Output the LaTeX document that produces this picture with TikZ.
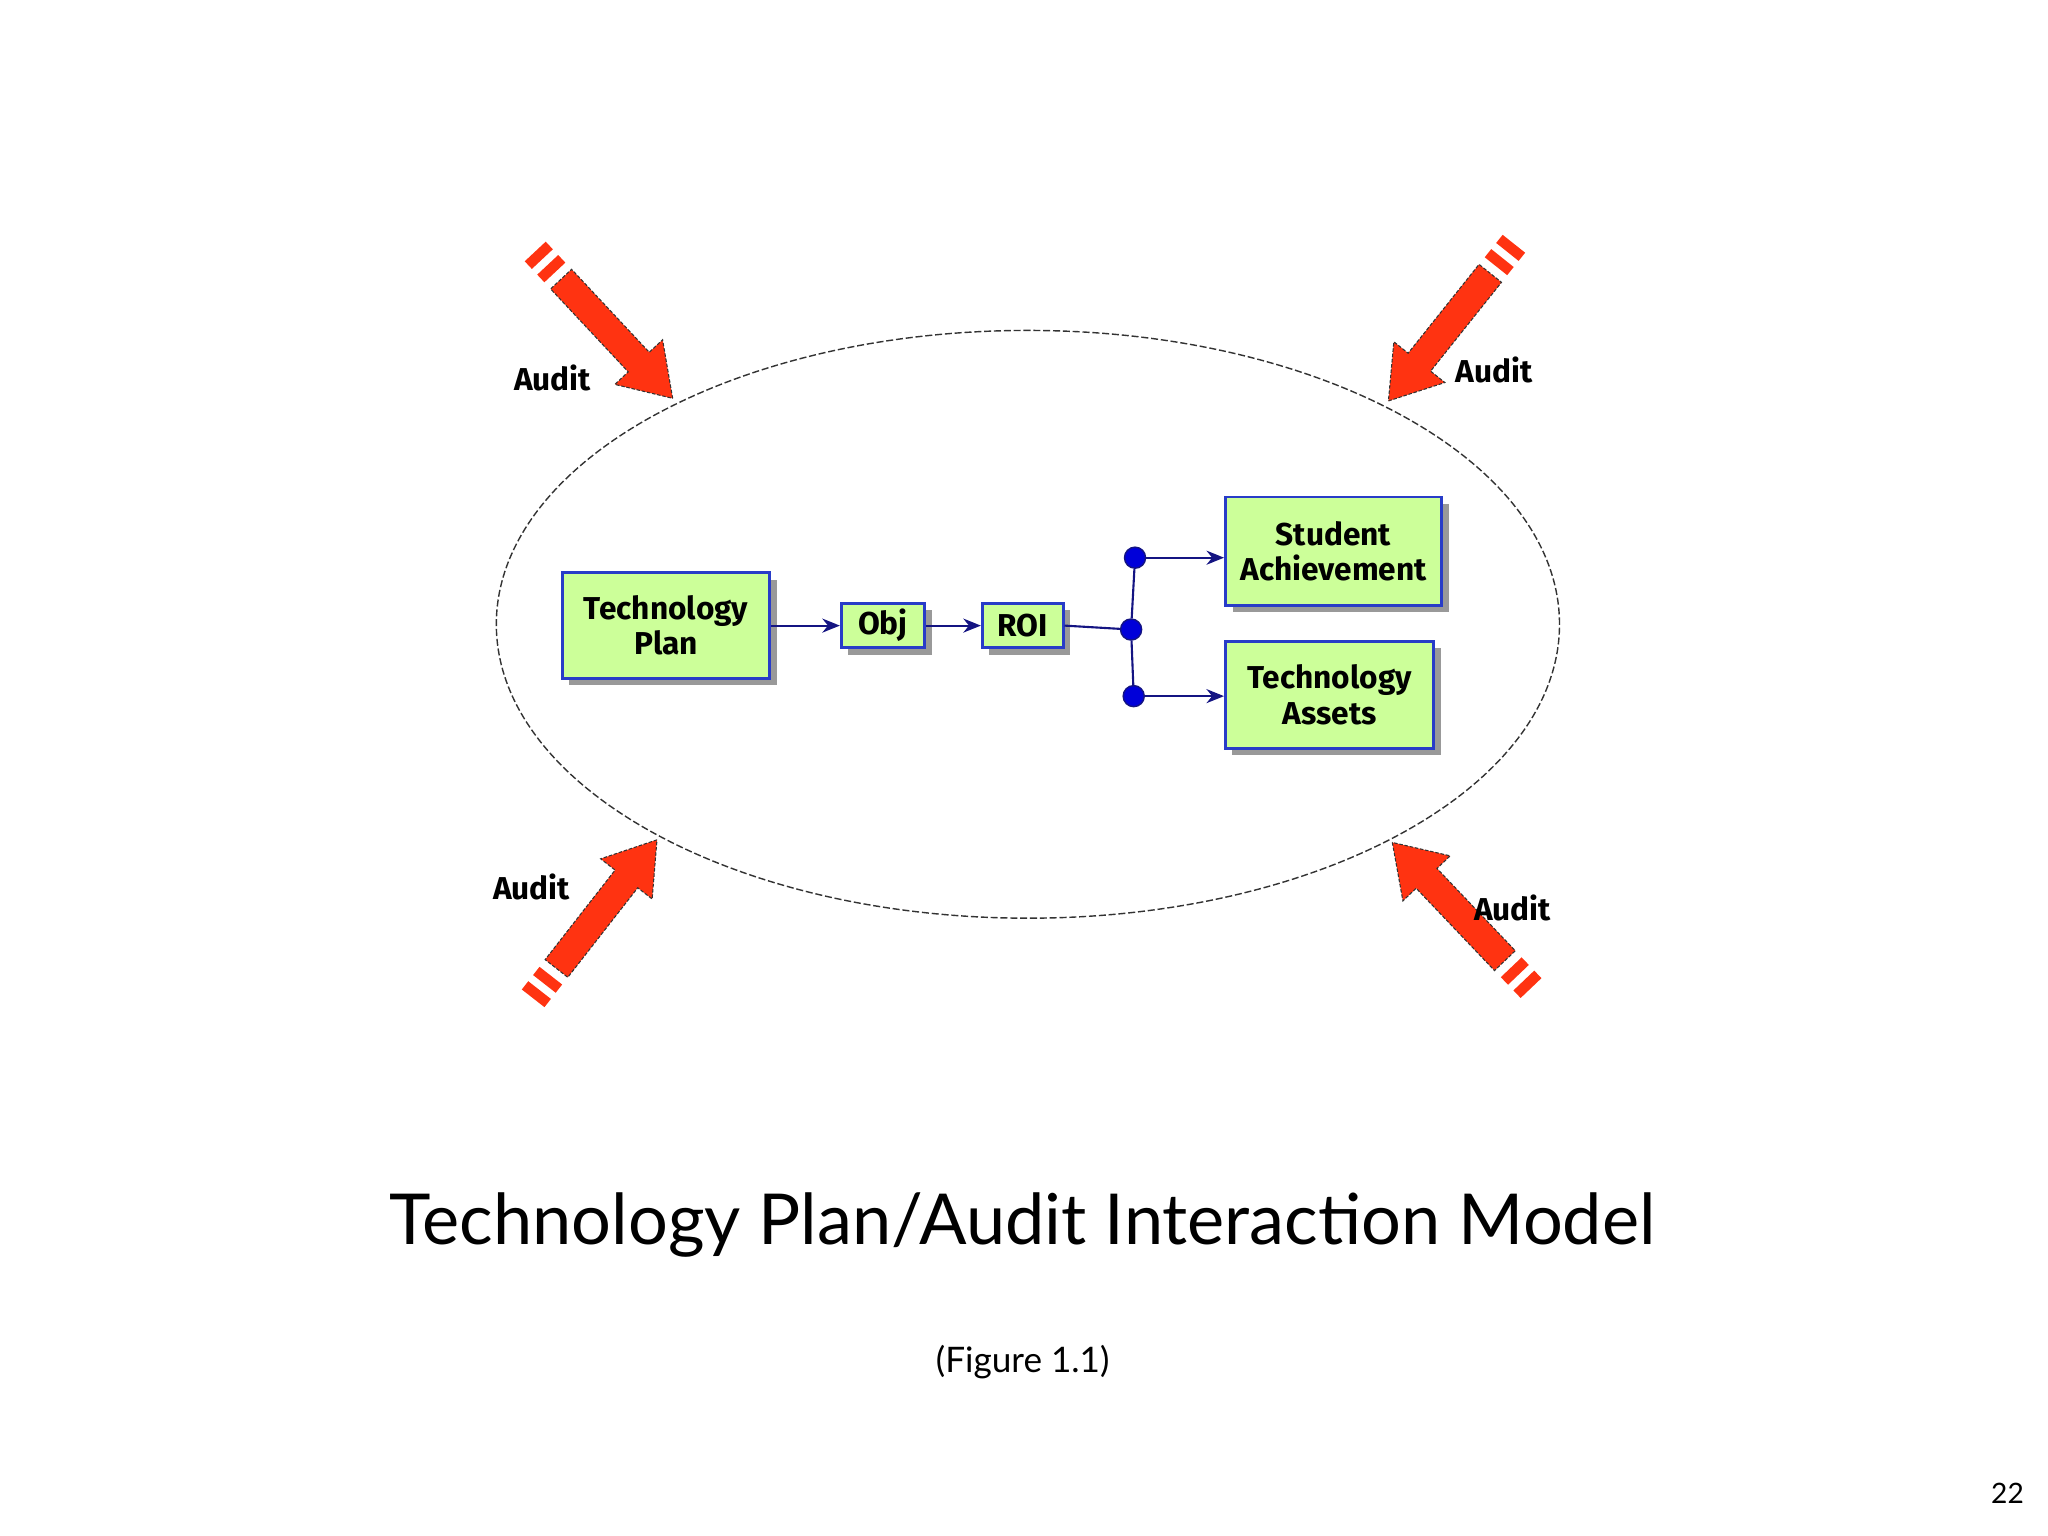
\documentclass[tikz,border=0pt]{standalone}
\usepackage{fontspec}
\setmainfont{Lato}
\newfontfamily\boxfont{Fira Sans}
\usetikzlibrary{arrows.meta,shadows}
\definecolor{boxgreen}{RGB}{204,255,153}
\definecolor{boxblue}{RGB}{40,60,200}
\definecolor{linknavy}{RGB}{20,20,130}
\definecolor{auditred}{RGB}{255,51,17}
\tikzset{
  plan/.style={draw=boxblue, fill=boxgreen, thick, align=center, inner sep=1pt,
    font=\boxfont\bfseries\fontsize{9}{10}\selectfont,
    drop shadow={shadow xshift=2pt, shadow yshift=-2pt, fill=black!40, opacity=1}},
  link/.style={draw=linknavy, line width=0.6pt},
  flow/.style={link, -{Stealth[length=5pt,width=4pt]}},
  dot/.style={circle, fill=blue!85!black, draw=linknavy, inner sep=0pt, minimum size=6pt},
  audit/.style={font=\boxfont\bfseries\fontsize{9}{10}\selectfont},
}
% red audit arrow, tip at #1, pointing at angle #2
\newcommand{\auditarrow}[2]{%
  \begin{scope}[shift={#1}, rotate=#2]
    \fill[auditred, draw=black!80, line width=0.3pt, dash pattern=on 1pt off 0.5pt]
      (0,0) -- (-38,25) -- (-38,11) -- (-125,11) -- (-125,-11) -- (-38,-11) -- (-38,-25) -- cycle;
    \fill[auditred] (-132,11) rectangle (-140,-11);
    \fill[auditred] (-146,11) rectangle (-154,-11);
  \end{scope}}
\begin{document}
\begin{tikzpicture}[x=0.01306cm, y=0.01306cm]
\useasboundingbox (0,0) rectangle (1568,1176);
% boundary
\draw[black!80, line width=0.4pt, dash pattern=on 2pt off 0.8pt] (787,698) ellipse [x radius=407, y radius=225];
% boxes
\node[plan, minimum width=59pt, minimum height=30pt] (plan) at (510,697) {Technology\\Plan};
\node[plan, minimum width=23.7pt, minimum height=12.6pt] (obj) at (676,697) {Obj};
\node[plan, minimum width=23pt, minimum height=12.6pt] (roi) at (783,697) {ROI};
\node[plan, minimum width=61.5pt, minimum height=30.8pt] (student) at (1021,754) {Student\\Achievement};
\node[plan, minimum width=59.3pt, minimum height=30.4pt] (assets) at (1018,644) {Technology\\Assets};
\node[dot] (split) at (866,694) {};
\node[dot] (up) at (869,749) {};
\node[dot] (down) at (868,643) {};
% links
\draw[flow] (plan.east) -- (obj.west);
\draw[flow] (obj.east) -- (roi.west);
\draw[link] (roi.east) -- (split);
\draw[link] (split) -- (up);
\draw[link] (split) -- (down);
\draw[flow] (up) -- (up -| student.west);
\draw[flow] (down) -- (down -| assets.west);
% audits
\auditarrow{(515,871)}{-46.9}
\auditarrow{(1063,869)}{-128.6}
\auditarrow{(503,533)}{52}
\auditarrow{(1066,531)}{133.6}
\node[audit] (a1) at (423,887) {Audit};
\node[audit] (a2) at (1144,893) {Audit};
\node[audit] (a3) at (407,497) {Audit};
\node[audit] (a4) at (1158,481) {Audit};
% captions
\node[font=\fontsize{20}{24}\selectfont] (title) at (783,238) {Technology Plan/Audit Interaction Model};
\node[font=\fontsize{10}{12}\selectfont] (fig) at (783,133) {(Figure 1.1)};
\node[font=\fontsize{8}{10}\selectfont] (page) at (1537,33) {22};
\end{tikzpicture}
\end{document}
